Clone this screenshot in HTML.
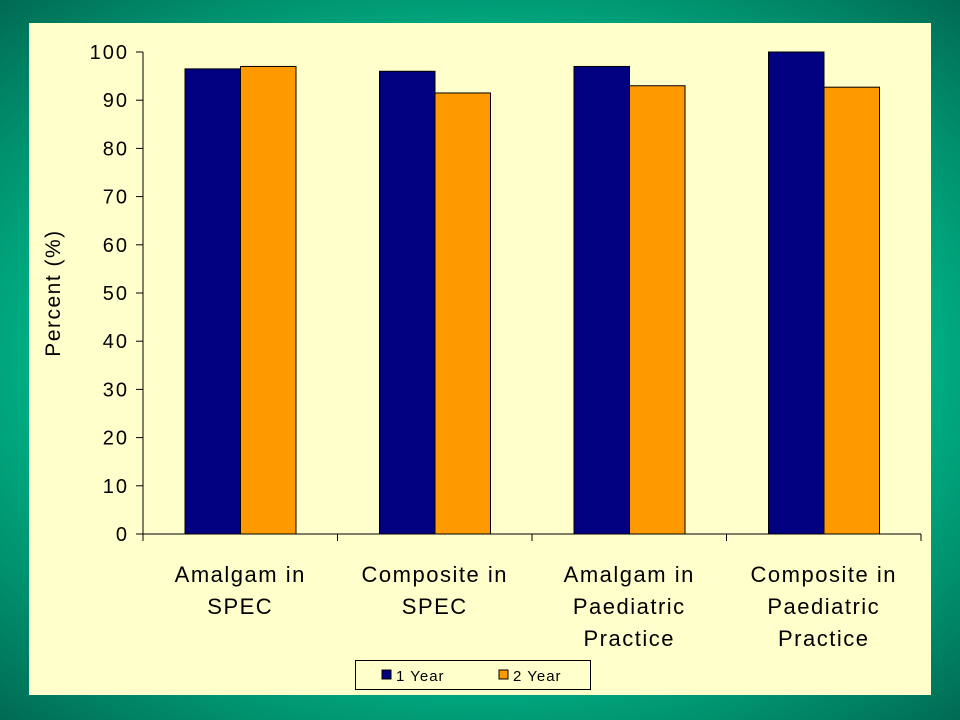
<!DOCTYPE html>
<html><head><meta charset="utf-8"><style>
body{margin:0;width:960px;height:720px;overflow:hidden;background:radial-gradient(ellipse 75% 70% at 50% 50%,#00cc99 0%,#00bb8c 55%,#006650 100%);font-family:"Liberation Sans",sans-serif}
#panel{position:absolute;left:29px;top:23px;width:902px;height:672px;background:#ffffcc}
</style></head><body>
<div id="panel"></div>
<svg id="chart" width="960" height="720" style="position:absolute;left:0;top:0"></svg>
<script>
const categories=[["Amalgam in","SPEC"],["Composite in","SPEC"],["Amalgam in","Paediatric","Practice"],["Composite in","Paediatric","Practice"]];
const year1=[96.5,96,97,100];
const year2=[97,91.5,93,92.7];
const yTicks=[0,10,20,30,40,50,60,70,80,90,100];
const seriesNames=["1 Year","2 Year"];
const colors=["#000080","#ff9900"];
const NS="http://www.w3.org/2000/svg";
const svg=document.getElementById('chart');
const x0=143,x1=921,yTop=52,yBot=534;
const y=v=>yBot-(v/100)*(yBot-yTop);
const cw=(x1-x0)/categories.length;
function el(t,a,p){const e=document.createElementNS(NS,t);for(const k in a)e.setAttribute(k,a[k]);(p||svg).appendChild(e);return e;}
// bars
[year1,year2].forEach((s,si)=>{s.forEach((v,i)=>{
 const bx=x0+i*cw+42+si*55.5;
 const r=el('rect',{x:bx,y:y(v),width:55.5,height:yBot-y(v),fill:colors[si],stroke:'#000','stroke-width':1});
 
 
});});
// axes
const ya=el('line',{x1:x0,y1:yTop,x2:x0,y2:yBot,stroke:'#000'});

const xa=el('line',{x1:x0,y1:yBot,x2:x1,y2:yBot,stroke:'#000'});

yTicks.forEach(t=>{
 el('line',{x1:x0-7,y1:y(t),x2:x0,y2:y(t),stroke:'#000'});
 const tx=el('text',{x:x0-14,y:y(t)+7,'text-anchor':'end','font-size':20,'letter-spacing':2,fill:'#000'});
 tx.textContent=t;
 
});
for(let i=0;i<=categories.length;i++)el('line',{x1:x0+i*cw,y1:yBot,x2:x0+i*cw,y2:yBot+7,stroke:'#000'});
categories.forEach((c,i)=>{
 c.forEach((ln,j)=>{
  const t=el('text',{x:x0+i*cw+cw/2,y:582+j*32,'text-anchor':'middle','font-size':22,'letter-spacing':1.5,fill:'#000'});
  t.textContent=ln;
  
 });
});
const yt=el('text',{x:0,y:0,transform:'translate(60,293) rotate(-90)','text-anchor':'middle','font-size':21,'letter-spacing':1.5,fill:'#000'});
yt.textContent='Percent (%)';

// legend
const lg=el('g',{});

el('rect',{x:355.5,y:660.5,width:235,height:29,fill:'#ffffcc',stroke:'#000'},lg);
seriesNames.forEach((n,i)=>{
 const lx=382+i*117;
 el('rect',{x:lx,y:670,width:9,height:9,fill:colors[i],stroke:'#000'},lg);
 const t=el('text',{x:lx+14,y:681,'font-size':15,'letter-spacing':1,fill:'#000'},lg);
 t.textContent=n;
 
});
</script>
</body></html>
